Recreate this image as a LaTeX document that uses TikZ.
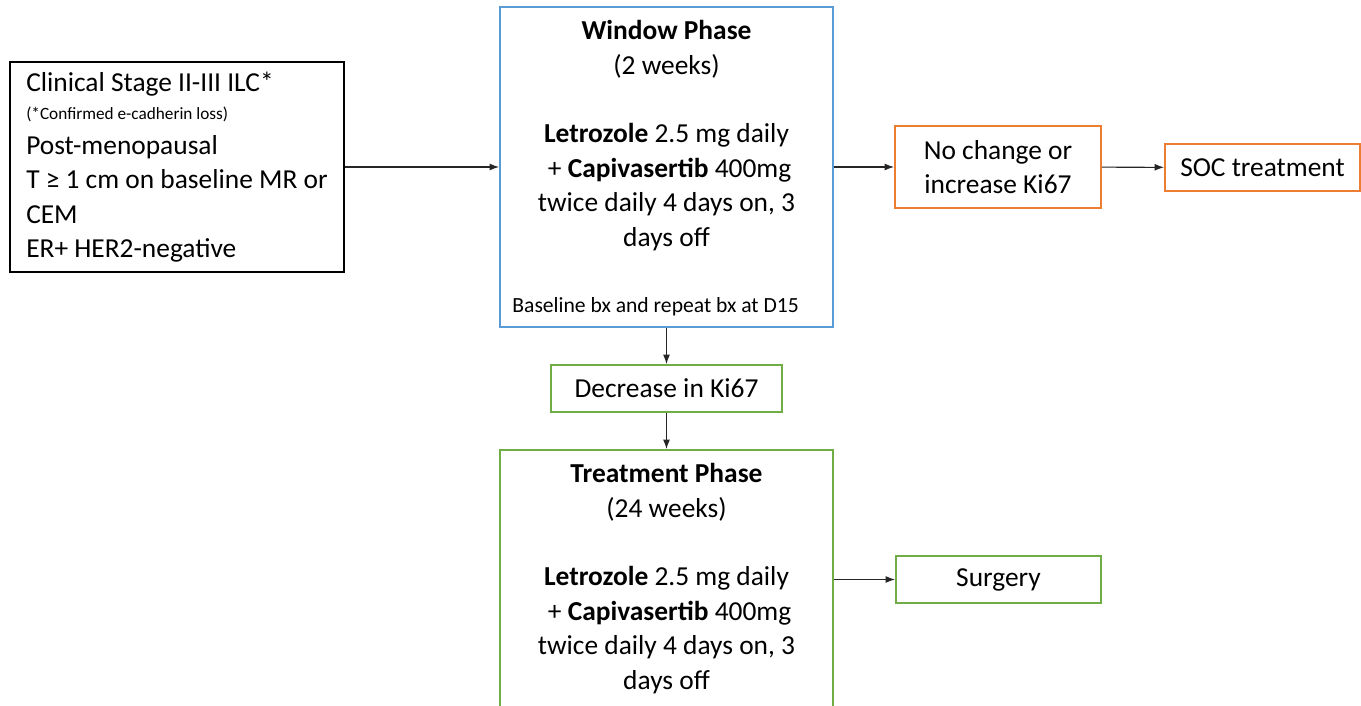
\documentclass[tikz,border=0pt]{standalone}
\usepackage{fontspec}
\setmainfont{Carlito}
\usetikzlibrary{arrows.meta,positioning}
\definecolor{winblue}{HTML}{5B9BD5}
\definecolor{socorange}{HTML}{ED7D31}
\definecolor{treatgreen}{HTML}{70AD47}
\newcommand{\mainsize}{\fontsize{15.6}{19.6}\selectfont}
\tikzset{
  box/.style={draw,line width=1.1pt,inner sep=0pt,align=center,font=\mainsize},
  txt/.style={align=center,inner sep=0pt,font=\mainsize},
  arr/.style={-{Latex[length=1.9mm,width=1.4mm]},line width=0.6pt,draw=black!85},
}
\begin{document}
\begin{tikzpicture}
\useasboundingbox (0,0) rectangle (27.22,-14.12);
\clip (0,0) rectangle (27.22,-14.12);
% inclusion criteria
\node[box,draw=black,align=left,minimum width=6.68cm,minimum height=4.2cm] (crit) at (3.54,-3.34) {Clinical Stage II-III ILC*\\[-0.12cm]{\fontsize{9.8}{12}\selectfont (*Confirmed e-cadherin loss)}\\Post-menopausal\\T ≥ 1 cm on baseline MR or\\CEM\\ER+ HER2-negative};
% window phase
\node[box,draw=winblue,minimum width=6.66cm,minimum height=6.4cm] (window) at (13.33,-3.34) {};
\node[txt,anchor=north] (wintext) at ([yshift=-0.28cm]window.north) {\textbf{Window Phase}\\(2 weeks)\\[19.6pt]\textbf{Letrozole} 2.5 mg daily\\~+ \textbf{Capivasertib} 400mg\\twice daily 4 days on, 3\\days off};
\node[txt,anchor=base west,font=\fontsize{12.3}{14}\selectfont] (biopsy) at ([xshift=0.26cm,yshift=0.3cm]window.south west) {Baseline bx and repeat bx at D15};
\node[box,draw=socorange,minimum width=4.12cm,minimum height=1.64cm] (nochange) at (19.96,-3.34) {No change or\\increase Ki67};
\node[box,draw=socorange,minimum width=3.9cm,minimum height=0.94cm] (soc) at (25.25,-3.35) {SOC treatment};
% treatment phase
\node[box,draw=treatgreen,minimum width=4.62cm,minimum height=0.94cm] (decrease) at (13.33,-7.77) {Decrease in Ki67};
\node[box,draw=treatgreen,minimum width=6.66cm,minimum height=6.4cm] (treat) at (13.33,-12.2) {};
\node[txt,anchor=north] (treattext) at ([yshift=-0.28cm]treat.north) {\textbf{Treatment Phase}\\(24 weeks)\\[19.6pt]\textbf{Letrozole} 2.5 mg daily\\~+ \textbf{Capivasertib} 400mg\\twice daily 4 days on, 3\\days off};
\node[box,draw=treatgreen,minimum width=4.1cm,minimum height=0.94cm] (surgery) at (19.97,-11.59) {Surgery};
% connectors
\draw[arr] (crit) -- (window);
\draw[arr] (window) -- (nochange);
\draw[arr] (nochange) -- (soc);
\draw[arr] (window) -- (decrease);
\draw[arr] (decrease) -- (treat);
\draw[arr] (surgery.west -| treat.east) -- (surgery.west);
\end{tikzpicture}
\end{document}
